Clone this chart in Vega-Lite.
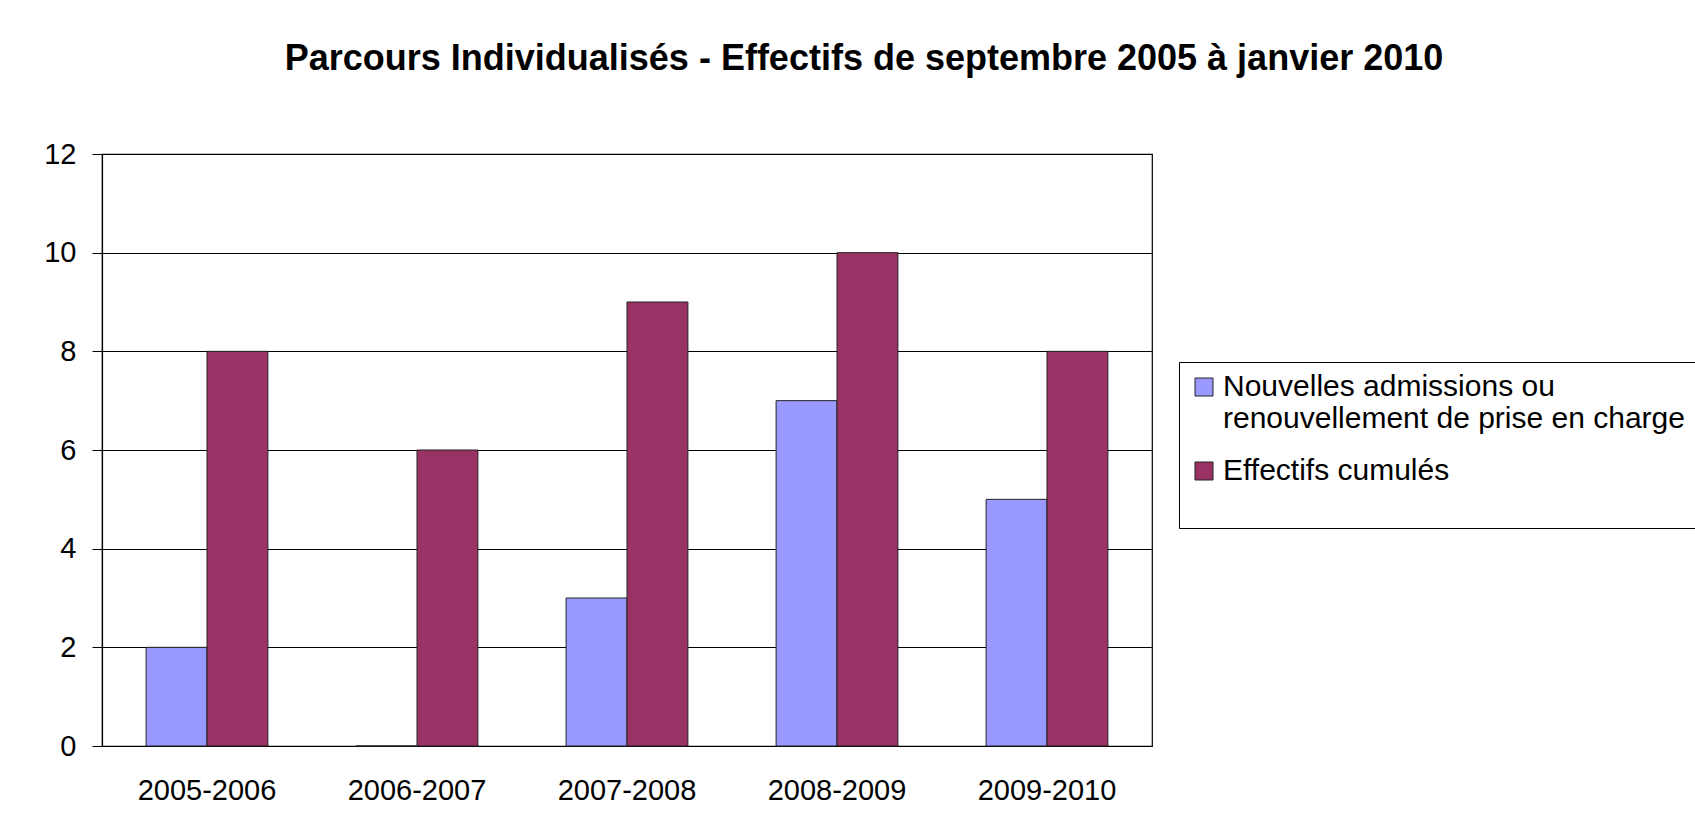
{
  "$schema": "https://vega.github.io/schema/vega-lite/v6.json",
  "width": 1050,
  "height": 592,
  "autosize": {"type": "none"},
  "padding": {"left": 102, "top": 154, "right": 543, "bottom": 94},
  "background": "white",
  "title": {
    "text": "Parcours Individualisés - Effectifs de septembre 2005 à janvier 2010",
    "font": "Liberation Sans",
    "fontSize": 36,
    "fontWeight": "bold",
    "color": "black",
    "anchor": "middle",
    "dx": 237,
    "offset": 62
  },
  "data": {
    "values": [
      {"annee": "2005-2006", "serie": "Nouvelles admissions ou renouvellement de prise en charge", "valeur": 2},
      {"annee": "2005-2006", "serie": "Effectifs cumulés", "valeur": 8},
      {"annee": "2006-2007", "serie": "Nouvelles admissions ou renouvellement de prise en charge", "valeur": 0},
      {"annee": "2006-2007", "serie": "Effectifs cumulés", "valeur": 6},
      {"annee": "2007-2008", "serie": "Nouvelles admissions ou renouvellement de prise en charge", "valeur": 3},
      {"annee": "2007-2008", "serie": "Effectifs cumulés", "valeur": 9},
      {"annee": "2008-2009", "serie": "Nouvelles admissions ou renouvellement de prise en charge", "valeur": 7},
      {"annee": "2008-2009", "serie": "Effectifs cumulés", "valeur": 10},
      {"annee": "2009-2010", "serie": "Nouvelles admissions ou renouvellement de prise en charge", "valeur": 5},
      {"annee": "2009-2010", "serie": "Effectifs cumulés", "valeur": 8}
    ]
  },
  "mark": {"type": "bar", "stroke": "#222222", "strokeWidth": 1},
  "encoding": {
    "x": {
      "field": "annee",
      "type": "nominal",
      "sort": null,
      "scale": {"paddingInner": 0.42, "paddingOuter": 0.21},
      "axis": {
        "title": null,
        "labelAngle": 0,
        "labelFont": "Liberation Sans",
        "labelFontSize": 29,
        "labelColor": "black",
        "labelPadding": 30,
        "ticks": false,
        "domainColor": "black",
        "domainWidth": 1.2
      }
    },
    "xOffset": {
      "field": "serie",
      "type": "nominal",
      "sort": ["Nouvelles admissions ou renouvellement de prise en charge", "Effectifs cumulés"],
      "scale": {"paddingInner": 0, "paddingOuter": 0}
    },
    "y": {
      "field": "valeur",
      "type": "quantitative",
      "scale": {"domain": [0, 12], "nice": false},
      "axis": {
        "title": null,
        "values": [0, 2, 4, 6, 8, 10, 12],
        "labelFont": "Liberation Sans",
        "labelFontSize": 29,
        "labelColor": "black",
        "labelPadding": 16,
        "tickSize": 10,
        "tickColor": "black",
        "domainColor": "black",
        "domainWidth": 1.2,
        "grid": true,
        "gridColor": "black",
        "gridWidth": 1,
        "gridOpacity": 1
      }
    },
    "color": {
      "field": "serie",
      "type": "nominal",
      "sort": ["Nouvelles admissions ou renouvellement de prise en charge", "Effectifs cumulés"],
      "scale": {
        "domain": ["Nouvelles admissions ou renouvellement de prise en charge", "Effectifs cumulés"],
        "range": ["#9999FF", "#993366"]
      },
      "legend": {
        "title": " ",
        "titleOrient": "bottom",
        "titleFontSize": 20,
        "titlePadding": 12,
        "orient": "none",
        "legendX": 1077,
        "legendY": 208,
        "labelExpr": "datum.label == 'Effectifs cumulés' ? datum.label : ['Nouvelles admissions ou', 'renouvellement de prise en charge']",
        "labelFont": "Liberation Sans",
        "labelFontSize": 30,
        "labelColor": "black",
        "labelLimit": 700,
        "labelOffset": 4,
        "symbolType": "square",
        "symbolSize": 324,
        "symbolStrokeColor": "#222222",
        "symbolStrokeWidth": 1,
        "symbolOpacity": 1,
        "rowPadding": 22,
        "padding": 10,
        "fillColor": "white",
        "strokeColor": "black"
      }
    }
  },
  "config": {
    "view": {"stroke": "black", "strokeWidth": 1.2},
    "font": "Liberation Sans"
  }
}
